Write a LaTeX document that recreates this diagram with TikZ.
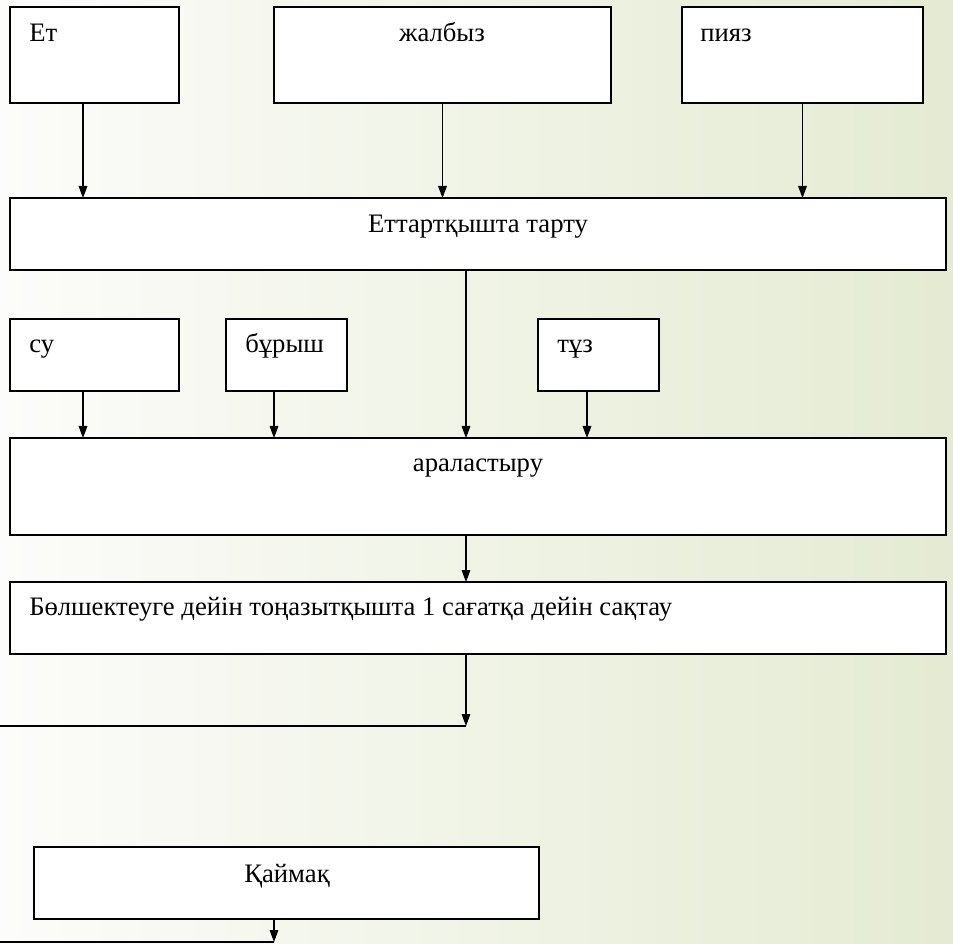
\documentclass[tikz,border=0pt]{standalone}
\usepackage{fontspec}
\setmainfont{Liberation Serif}
\usepackage{tikz}
\usetikzlibrary{arrows.meta}
\usetikzlibrary{positioning}

\definecolor{bgLeft}{RGB}{252,252,250}
\definecolor{bgMid}{RGB}{246,248,240}
\definecolor{bgRight}{RGB}{228,235,210}

\tikzset{
	box/.style 2 args={draw, line width=1.5pt, fill=white, anchor=north west, inner sep=0pt, outer sep=0pt, minimum width=#1*0.75pt, minimum height=#2*0.75pt},
	lbl/.style={inner sep=0pt, font=\fontsize{20}{24}\selectfont},
	arr/.style={line width=0.8pt, -{Triangle[length=9pt,width=6.5pt]}},
	link/.style={line width=1.5pt},
}

\begin{document}
\begin{tikzpicture}[x=0.75pt,y=-0.75pt]
	% page with the green gradient
	\shade[left color=bgLeft, middle color=bgMid, right color=bgRight] (0,0) rectangle (953,944);
	\useasboundingbox (0,0) rectangle (953,944);

	% First row - meat, mint, onion
	\node[box={169}{96}] (et) at (10,7) {};
	\node[box={337}{96}] (zhalbyz) at (274,7) {};
	\node[box={241}{96}] (piyaz) at (682,7) {};
	\node[lbl, anchor=base west] (etText) at (29,42) {Ет};
	\node[lbl, anchor=base] (zhalbyzText) at (442,42) {жалбыз};
	\node[lbl, anchor=base west] (piyazText) at (700,42) {пияз};

	% Mincing
	\node[box={936}{72}] (tartu) at (10,198) {};
	\node[lbl, anchor=base] (tartuText) at (478,233) {Еттартқышта тарту};
	\foreach \name/\dx in {et/-11.5, zhalbyz/0, piyaz/0} {
		\coordinate (\name Out) at ([xshift=\dx*0.75pt]\name.south);
		\draw[arr] (\name Out) -- (\name Out |- tartu.north);
	}

	% Second row - water, pepper, salt
	\node[box={169}{72}] (su) at (10,319) {};
	\node[box={121}{72}] (burysh) at (226,319) {};
	\node[box={121}{72}] (tuz) at (538,319) {};
	\node[lbl, anchor=base west] (suText) at (29,353) {су};
	\node[lbl, anchor=base west] (buryshText) at (245,353) {бұрыш};
	\node[lbl, anchor=base west] (tuzText) at (557,353) {тұз};

	% Mixing
	\node[box={936}{97}] (aral) at (10,438) {};
	\node[lbl, anchor=base] (aralText) at (478,472) {араластыру};
	\coordinate (tartuOut) at ([xshift=-12*0.75pt]tartu.south);
	\draw[arr] (tartuOut) -- (tartuOut |- aral.north);
	\foreach \name/\dx in {su/-11.5, burysh/-12.5, tuz/-11.5} {
		\coordinate (\name Out) at ([xshift=\dx*0.75pt]\name.south);
		\draw[arr] (\name Out) -- (\name Out |- aral.north);
	}

	% Keeping in the fridge
	\node[box={936}{72}] (saqtau) at (10,582) {};
	\node[lbl, anchor=base west] (saqtauText) at (29,615) {Бөлшектеуге дейін тоңазытқышта 1 сағатқа дейін сақтау};
	\coordinate (aralOut) at ([xshift=-12*0.75pt]aral.south);
	\draw[arr] (aralOut) -- (aralOut |- saqtau.north);

	\coordinate (saqtauOut) at ([xshift=-12*0.75pt]saqtau.south);
	\coordinate (leftA) at (0,726);
	\draw[link] (leftA) -- (leftA -| saqtauOut);
	\draw[arr] (saqtauOut) -- (saqtauOut |- leftA);

	% Cream
	\node[box={505}{72}] (qaymaq) at (34,847) {};
	\node[lbl, anchor=base] (qaymaqText) at (287,882) {Қаймақ};
	\coordinate (qaymaqOut) at ([xshift=-12.5*0.75pt]qaymaq.south);
	\coordinate (leftB) at (0,942);
	\draw[link] (leftB) -- (leftB -| qaymaqOut);
	\draw[arr] (qaymaqOut) -- (qaymaqOut |- leftB);
\end{tikzpicture}
\end{document}
